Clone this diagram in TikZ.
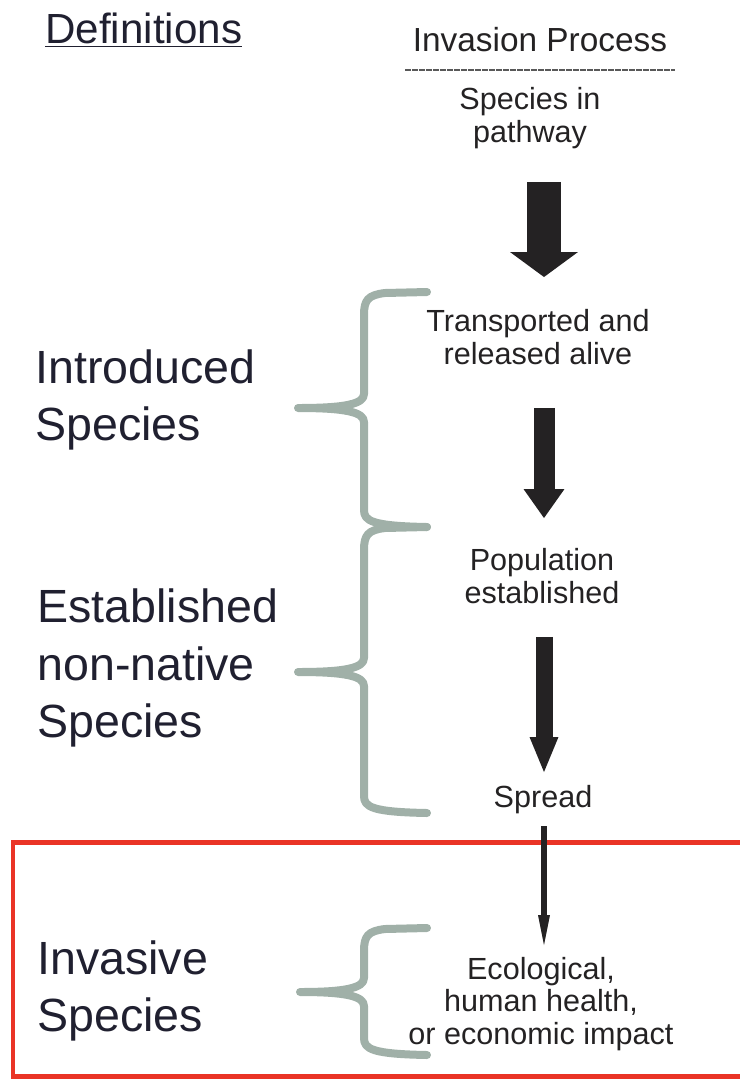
\documentclass[tikz,border=0pt]{standalone}
\usepackage{fontspec}
\setmainfont{Liberation Sans}
\usetikzlibrary{arrows.meta,positioning}
\definecolor{bracegray}{RGB}{160,176,168}
\definecolor{invred}{RGB}{234,52,38}
\definecolor{labelink}{RGB}{32,32,48}
\definecolor{stepink}{RGB}{36,34,35}
\tikzset{
    defhead/.style={font=\fontsize{24}{28}\selectfont, text=labelink, anchor=west, inner sep=0pt},
    deflabel/.style={font=\fontsize{26.5}{32.5}\selectfont, text=labelink, align=left, anchor=west, inner sep=0pt},
    prochead/.style={font=\fontsize{19}{22}\selectfont, text=stepink, inner sep=0pt},
    procstep/.style={font=\fontsize{17.4}{18.4}\selectfont, text=stepink, align=center, inner sep=0pt},
    headrule/.style={draw=black!65, line width=0.04cm, dash pattern=on 0.12cm off 0.02cm},
    grpbrace/.style={draw=bracegray, line width=0.16cm, line cap=round, line join=round},
    invbox/.style={draw=invred, line width=0.1cm},
    arrowA/.style={draw=stepink, line width=0.7cm, -{Triangle[width=1.36cm, length=0.5cm, line width=0pt]}},
    arrowB/.style={draw=stepink, line width=0.42cm, -{Triangle[width=0.82cm, length=0.58cm, line width=0pt]}},
    arrowC/.style={draw=stepink, line width=0.34cm, -{Triangle[width=0.58cm, length=0.7cm, line width=0pt]}},
    arrowD/.style={draw=stepink, line width=0.12cm, -{Triangle[width=0.24cm, length=0.6cm, line width=0pt]}},
}
\begin{document}
\begin{tikzpicture}[x=0.02cm, y=-0.02cm]
    \useasboundingbox (0,0) rectangle (740,1080);
    % red frame round the invasive part
    \draw[invbox] (760,842) -- (13,842) -- (13,1076) -- (760,1076);
    % left column
    \node[defhead] (defs) at (45,30) {\underline{Definitions}};
    \node[deflabel] (intro) at (35,400) {Introduced\\Species};
    \node[deflabel] (estab) at (37,668) {Established\\non-native\\Species};
    \node[deflabel] (invas) at (37,991) {Invasive\\Species};
    % right column
    \node[prochead] (proc) at (540,40) {Invasion Process};
    \draw[headrule] (405,70) -- (675,70);
    \node[procstep] (s0) at (530,118) {Species in\\pathway};
    \node[procstep] (s1) at (538,337) {Transported and\\released alive};
    \node[procstep] (s2) at (542,576) {Population\\established};
    \node[procstep] (s3) at (543,800) {Spread};
    \node[procstep] (s4) at (541,1004) {Ecological,\\human health,\\or economic impact};
    \coordinate (axis) at (544,0);
    \draw[arrowA, shorten <=1.28cm, shorten >=1.2cm] (s0 -| axis) -- (s1 -| axis);
    \draw[arrowB, shorten <=1.42cm, shorten >=1.16cm] (s1 -| axis) -- (s2 -| axis);
    \draw[arrowC, shorten <=1.22cm, shorten >=0.56cm] (s2 -| axis) -- (s3 -| axis);
    \draw[arrowD, shorten <=0.52cm, shorten >=1.18cm] (s3 -| axis) -- (s4 -| axis);
    % braces
    \draw[grpbrace] (427,292) -- (385,293) .. controls (368,295) and (364,300) .. (364,315)
        -- (364,394) .. controls (364,404) and (345,408) .. (298,408)
        .. controls (345,408) and (364,412) .. (364,422)
        -- (364,510) .. controls (364,521) and (372,526) .. (427,527);
    \draw[grpbrace] (427,527) -- (385,528) .. controls (368,530) and (364,535) .. (364,550)
        -- (364,658) .. controls (364,668) and (345,672) .. (298,672)
        .. controls (345,672) and (364,676) .. (364,686)
        -- (364,796) .. controls (364,807) and (372,812) .. (427,813);
    \draw[grpbrace] (427,928) -- (385,929) .. controls (368,931) and (364,936) .. (364,951)
        -- (364,978) .. controls (364,988) and (345,992) .. (300,992)
        .. controls (345,992) and (364,996) .. (364,1006)
        -- (364,1038) .. controls (364,1049) and (372,1054) .. (427,1055);
\end{tikzpicture}
\end{document}
